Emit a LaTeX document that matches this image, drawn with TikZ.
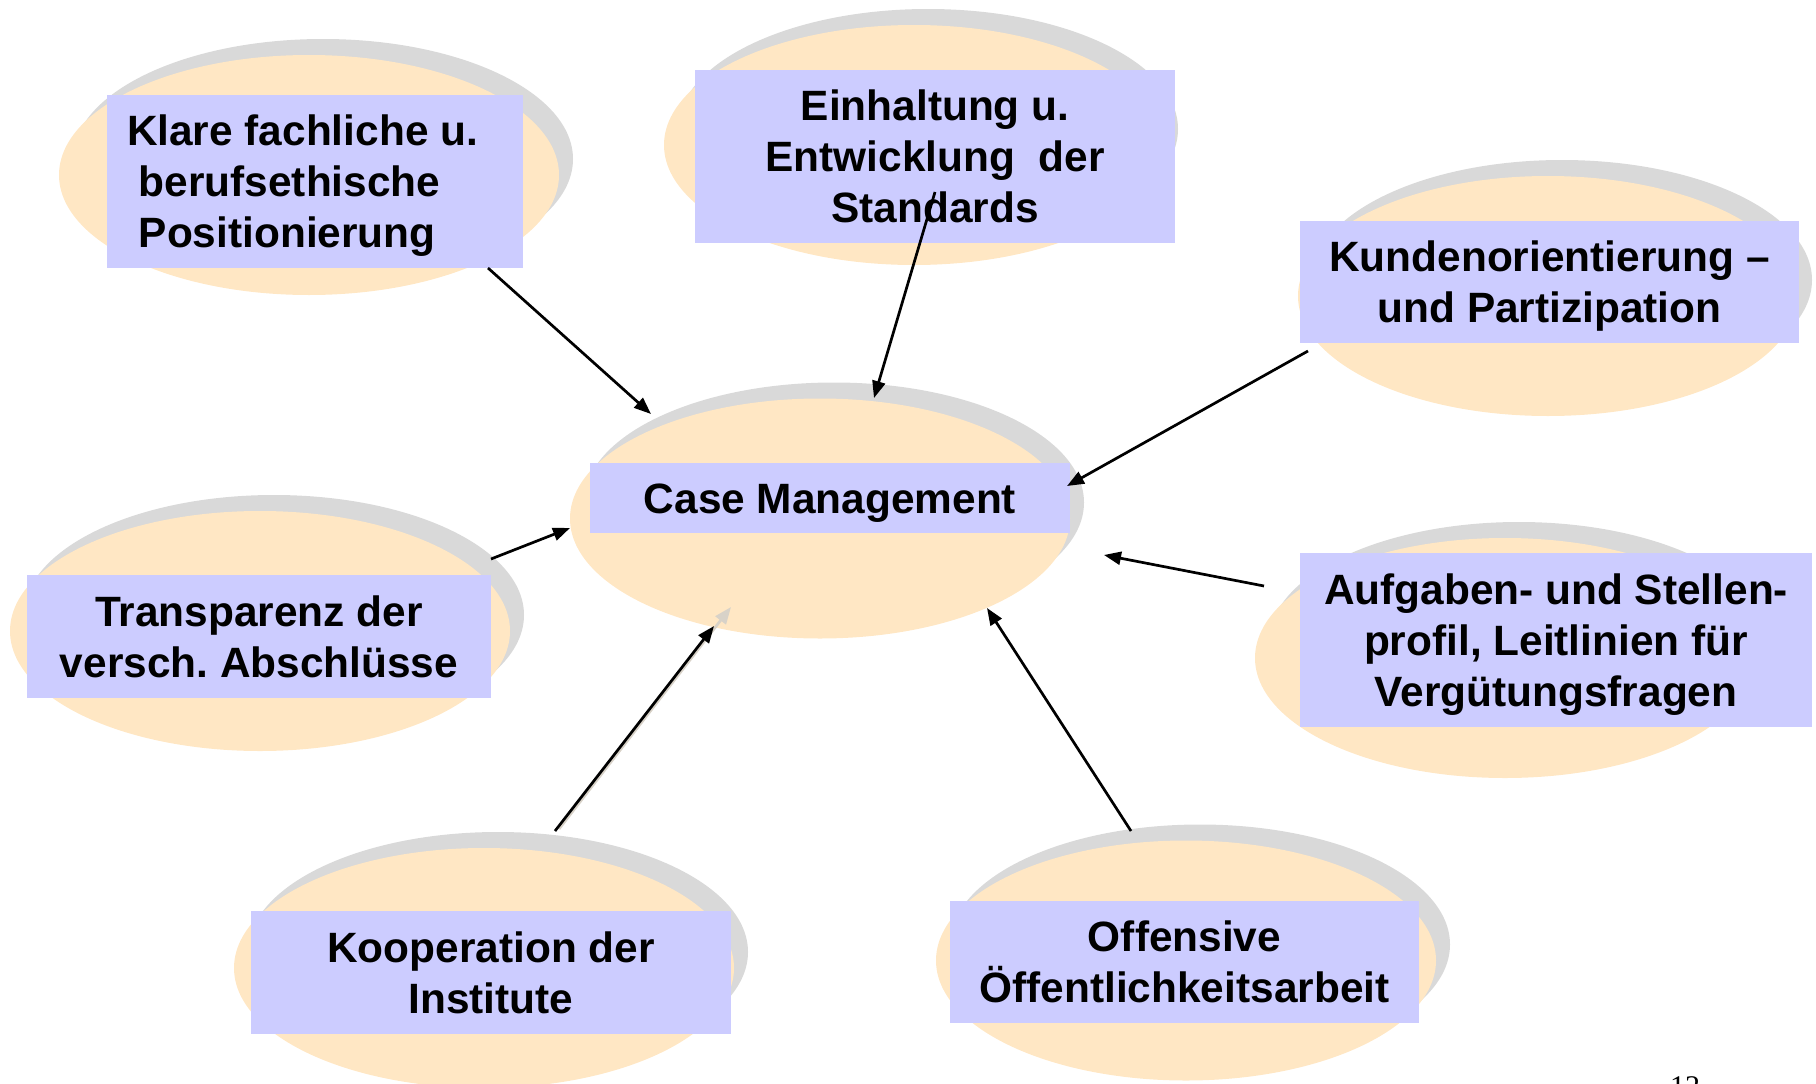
\documentclass[tikz,border=0pt]{standalone}
\usepackage{fontspec}
\setmainfont{Liberation Sans}
\newfontfamily\pagenofont{Liberation Serif}
\usetikzlibrary{shapes.geometric,arrows.meta,calc}
\frenchspacing

\definecolor{ovalfill}{HTML}{FFE7C4}
\definecolor{ovalshade}{HTML}{D9D9D9}
\definecolor{labelfill}{HTML}{CCCCFF}
\definecolor{ghostline}{HTML}{D8D2C8}

% several lines, baseline on the last one
\newcommand\labellines[2]{\begin{tabular}[b]{@{}#1@{}}#2\end{tabular}}

\tikzset{
  oval/.style={ellipse, fill=ovalfill, minimum width=500pt, minimum height=240pt, inner sep=0pt},
  ovalshadow/.style={ellipse, fill=ovalshade, minimum width=500pt, minimum height=240pt, inner sep=0pt},
  labelbox/.style={rectangle, fill=labelfill, inner sep=0pt, text depth=0pt,
    font=\fontsize{42.4}{51}\selectfont\bfseries},
  oneline/.style={text height=30.4pt},
  twolines/.style={text height=81.4pt},
  threelines/.style={text height=132.4pt},
  feed/.style={-{Triangle[length=17pt,width=13pt]}, line width=2.7pt, black},
}

\begin{document}
\begin{tikzpicture}[x=1pt,y=-1pt]
\useasboundingbox (0,0) rectangle (1816,1084);
\clip (0,0) rectangle (1816,1084);

% ovals with their shadows
\node[ovalshadow] (klareS) at (323,159) {};
\node[oval] (klareE) at (309,175) {};
\node[ovalshadow] (einhS) at (928,129) {};
\node[oval] (einhE) at (914,145) {};
\node[ovalshadow] (kundenS) at (1562,280) {};
\node[oval] (kundenE) at (1548,296) {};
\node[ovalshadow] (caseS) at (834,502.5) {};
\node[oval] (caseE) at (820,518.5) {};
\node[ovalshadow] (transS) at (274,615) {};
\node[oval] (transE) at (260,631) {};
\node[ovalshadow] (aufgS) at (1519,642) {};
\node[oval] (aufgE) at (1505,658) {};
\node[ovalshadow] (koopS) at (498,952) {};
\node[oval] (koopE) at (484,968) {};
\node[ovalshadow] (offS) at (1200,944.5) {};
\node[oval] (offE) at (1186,960.5) {};

% labels
\node[labelbox, threelines, minimum width=416pt, minimum height=173pt] (klare) at (315,181.5)
  {\makebox[376pt][l]{\labellines{l}{Klare fachliche u.\\\ berufsethische\\\ Positionierung}}};
\node[labelbox, threelines, minimum width=480pt, minimum height=173pt] (einh) at (935,156.5)
  {\labellines{c}{Einhaltung u.\\Entwicklung\ \ der\\Standards}};
\node[labelbox, twolines, minimum width=499pt, minimum height=122pt] (kunden) at (1549.5,282)
  {\labellines{c}{Kundenorientierung –\\und Partizipation}};
\node[labelbox, oneline, minimum width=480pt, minimum height=70pt] (case) at (830,498)
  {Case Management};
\node[labelbox, twolines, minimum width=464pt, minimum height=123pt] (trans) at (259,636.5)
  {\labellines{c}{Transparenz der\\versch. Abschlüsse}};
\node[labelbox, threelines, minimum width=512pt, minimum height=174pt] (aufg) at (1556,640)
  {\labellines{c}{Aufgaben- und Stellen-\\profil, Leitlinien für\\Vergütungsfragen}};
\node[labelbox, twolines, minimum width=480pt, minimum height=123pt] (koop) at (491,972.5)
  {\labellines{c}{Kooperation der\\Institute}};
\node[labelbox, twolines, minimum width=469pt, minimum height=122pt] (off) at (1184.5,962)
  {\labellines{c}{Offensive\\Öffentlichkeitsarbeit}};

% arrows into the centre
\draw[feed] ($(klare.center)+(173,86.5)$) -- ($(caseE.center)+(-169,-104.5)$);
\draw[feed] ($(einh.center)+(0,35.5)$) -- ($(caseE.center)+(54,-120.5)$);
\draw[feed] ($(kunden.center)+(-241.5,69)$) -- ($(caseE.center)+(247,-32.5)$);
\draw[feed] ($(aufg.center)+(-292,-54)$) -- ($(caseE.center)+(284,36.5)$);
\draw[feed] ($(trans.center)+(232,-77.5)$) -- ($(caseE.center)+(-250,9.5)$);
\draw[feed, ghostline] ($(koopE.center)+(75,-139)$) -- ($(caseE.center)+(-89,88.5)$);
\draw[feed] ($(koopE.center)+(71,-137)$) -- ($(caseE.center)+(-106,107.5)$);
\draw[feed] ($(offE.center)+(-55,-129.5)$) -- ($(caseE.center)+(167,89.5)$);

% page number, running off the lower edge
\node[anchor=north west, inner sep=0pt, font=\pagenofont\fontsize{30}{36}\selectfont] (pageno) at (1670,1076) {12};
\end{tikzpicture}
\end{document}
